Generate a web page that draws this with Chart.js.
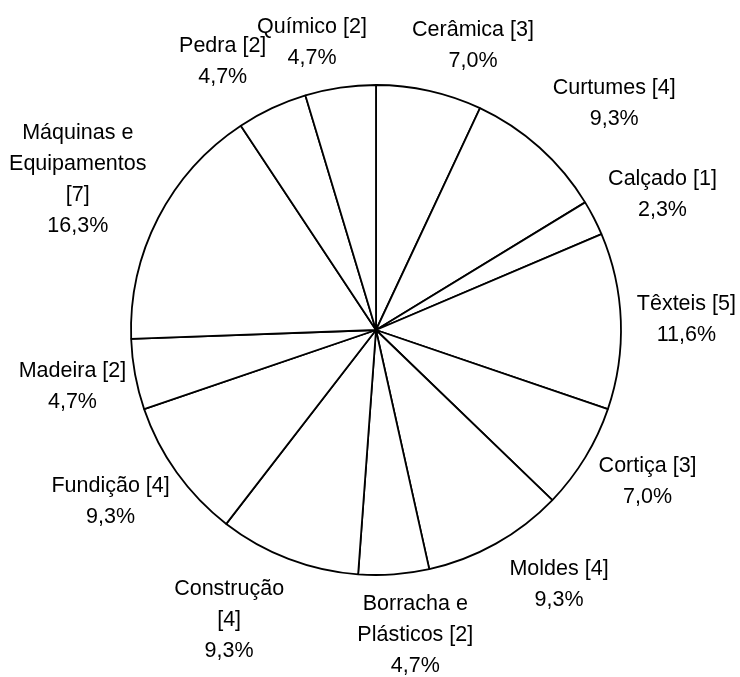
<!DOCTYPE html>
<html>
<head>
<meta charset="utf-8">
<script src="https://cdn.jsdelivr.net/npm/chart.js@4.4.1/dist/chart.umd.min.js"></script>
<style>
  body { margin: 0; background: #fff; }
  #wrap { width: 740px; height: 677px; }
</style>
</head>
<body>
<div id="wrap"><canvas id="sector_chart" width="740" height="677"></canvas></div>
<script>
// setores, no sentido dos ponteiros do relogio a partir do topo
// ("\n" marca onde a etiqueta quebra a linha)
var categories = ["Cerâmica", "Curtumes", "Calçado", "Têxteis", "Cortiça", "Moldes",
                  "Borracha e\nPlásticos", "Construção\n", "Fundição", "Madeira",
                  "Máquinas e\nEquipamentos\n", "Pedra", "Químico"];
var counts = [3, 4, 1, 5, 3, 4, 2, 4, 4, 2, 7, 2, 2];

// pequenos ajustes das etiquetas (px), como no grafico original
var labelNudge = [[27, 1], [23, -9], [6, -2], [0, 0], [7, -1], [31, 0],
                  [16, -2], [-34, 3], [-5, 2], [6, 4], [-5, -3], [-24, -4], [-18, 1]];

var labelFont = "21.5px 'Liberation Sans', Arial, sans-serif";
var lineHeight = 31;

var total = counts.reduce(function (a, b) { return a + b; }, 0);

var outsideLabels = {
    id: "outsideLabels",
    afterDraw: function (chart) {
        var ctx = chart.ctx;
        var meta = chart.getDatasetMeta(0);
        ctx.save();
        ctx.font = labelFont;
        ctx.fillStyle = "#000";
        ctx.textAlign = "center";
        ctx.textBaseline = "middle";
        meta.data.forEach(function (arc, i) {
            var v = counts[i];
            var pct = (v / total * 100).toFixed(1).replace(".", ",") + "%";
            var lines = (categories[i] + " [" + v + "]").split("\n").map(function (s) { return s.trim(); });
            lines.push(pct);
            var w = 0;
            lines.forEach(function (l) { w = Math.max(w, ctx.measureText(l).width); });
            var h = lines.length * lineHeight;
            var mid = (arc.startAngle + arc.endAngle) / 2;
            var r = arc.outerRadius + 16;
            var px = arc.x + r * Math.cos(mid);
            var py = arc.y + r * Math.sin(mid);
            var cx = px + w / 2 * Math.cos(mid) + labelNudge[i][0];
            var cy = py + h / 2 * Math.sin(mid) + labelNudge[i][1];
            var y0 = cy - h / 2 + lineHeight / 2;
            lines.forEach(function (l, k) {
                ctx.fillText(l, cx, y0 + k * lineHeight);
            });
        });
        ctx.restore();
    }
};

var chart = new Chart(document.getElementById("sector_chart"), {
    type: "pie",
    data: {
        labels: categories,
        datasets: [{
            data: counts,
            backgroundColor: "#ffffff",
            borderColor: "#000000",
            borderWidth: 1.8
        }]
    },
    options: {
        responsive: false,
        animation: false,
        radius: 245,
        layout: { padding: { left: 12, right: 0, top: 0, bottom: 17 } },
        plugins: {
            legend: { display: false },
            tooltip: { enabled: false }
        }
    },
    plugins: [outsideLabels]
});
</script>
</body>
</html>
